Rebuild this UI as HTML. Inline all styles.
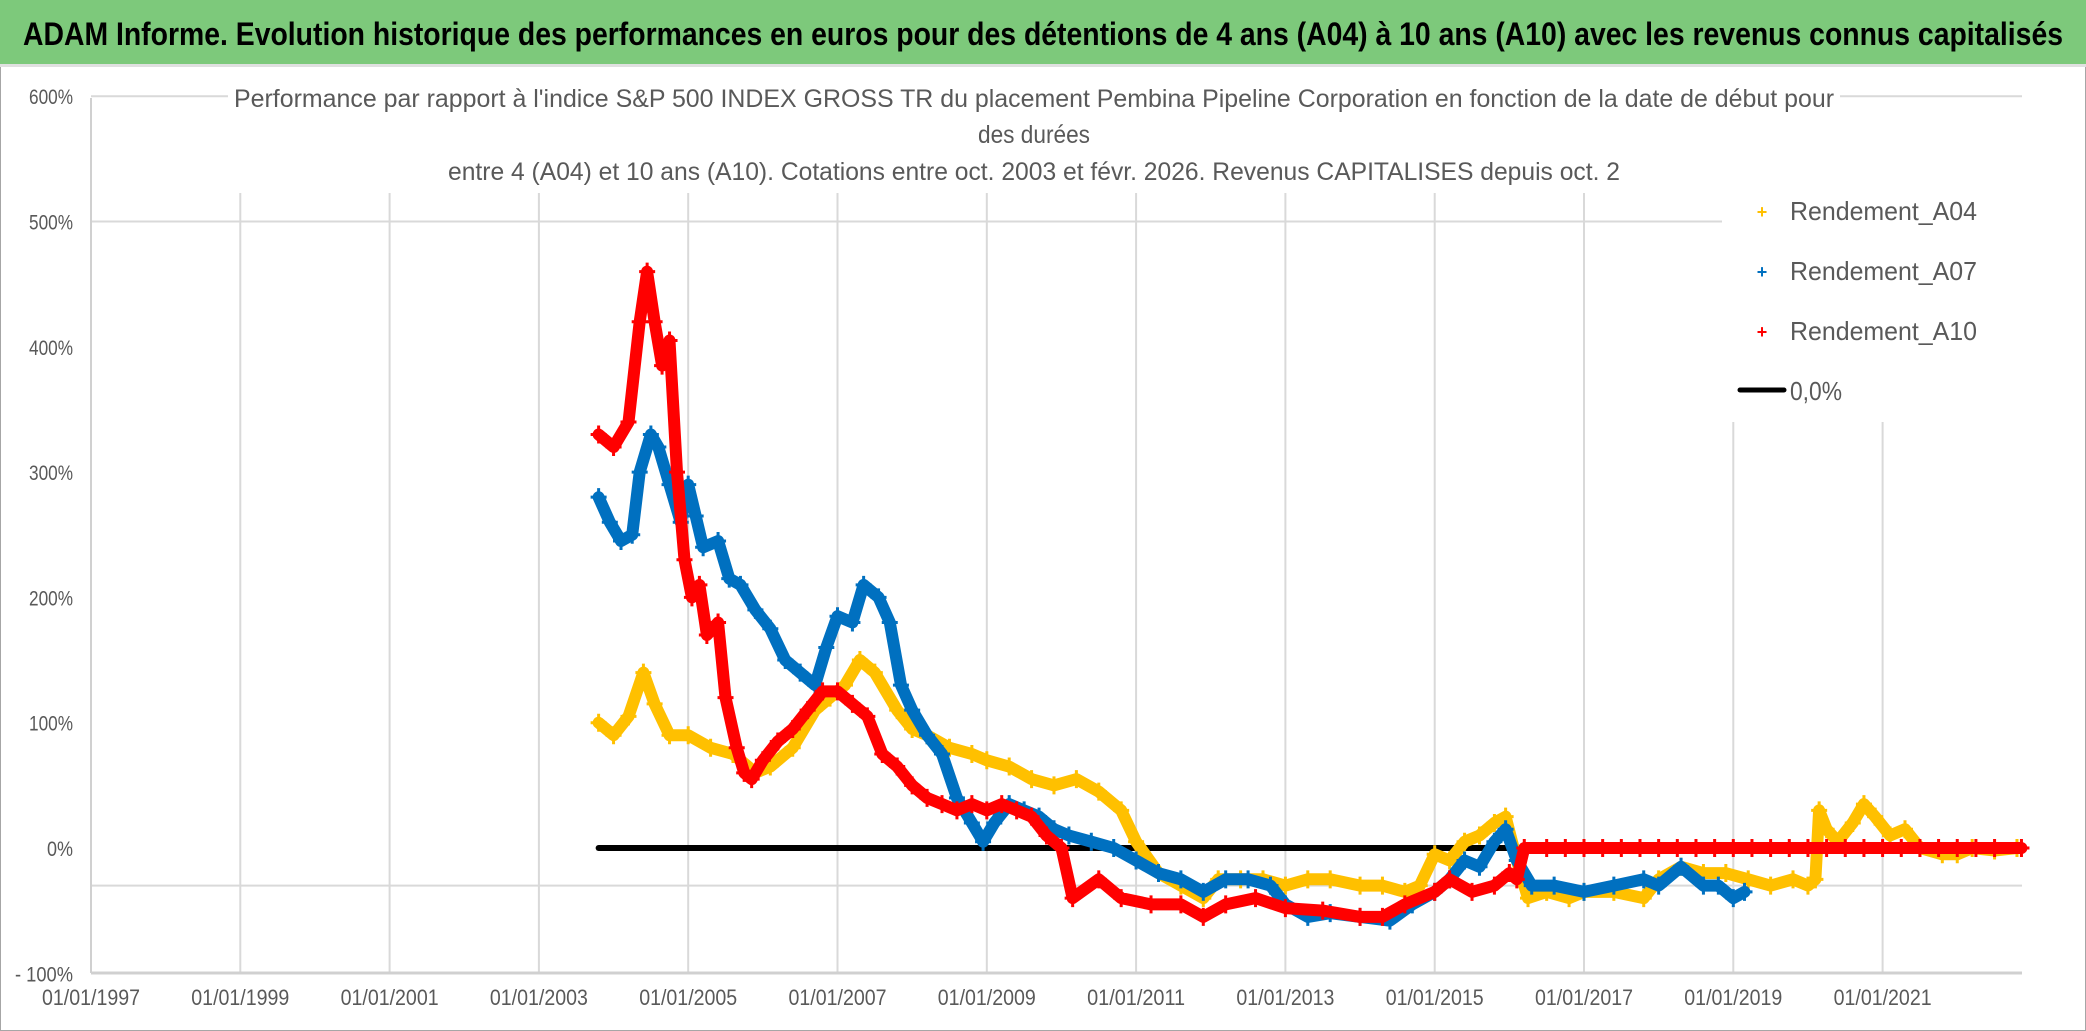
<!DOCTYPE html>
<html><head><meta charset="utf-8"><style>
html,body{margin:0;padding:0;background:#fff}
svg{display:block}
text{font-family:"Liberation Sans",sans-serif}
</style></head><body>
<svg id="c" width="2086" height="1031" xmlns="http://www.w3.org/2000/svg">
<rect x="0" y="0" width="2086" height="1031" fill="#fff" stroke="#a6a6a6" stroke-width="2"/>
<rect x="0" y="0" width="2086" height="64" fill="#7dc97b"/>
<rect x="0" y="64" width="2086" height="3" fill="#e0e0e0"/>
<text x="1043" y="45" text-anchor="middle" font-size="32" font-weight="bold" fill="#000" textLength="2040" lengthAdjust="spacingAndGlyphs">ADAM Informe. Evolution historique des performances en euros pour des détentions de 4 ans (A04) à 10 ans (A10) avec les revenus connus capitalisés</text>
<g id="grid"></g>
<rect x="228" y="80" width="1612" height="112" fill="#fff"/>
<rect x="1722" y="186" width="300" height="236" fill="#fff"/>
<g id="axes"></g>
<g id="series"></g>
<g fill="#595959" font-size="25" text-anchor="middle">
<text x="1034" y="107" textLength="1600" lengthAdjust="spacingAndGlyphs">Performance  par rapport à l'indice S&amp;P 500 INDEX GROSS TR  du placement Pembina Pipeline Corporation en fonction de la date de début pour</text>
<text x="1034" y="143" textLength="112" lengthAdjust="spacingAndGlyphs">des durées</text>
<text x="1034" y="180" textLength="1172" lengthAdjust="spacingAndGlyphs">entre 4 (A04) et 10 ans (A10). Cotations entre oct. 2003 et févr. 2026. Revenus CAPITALISES depuis oct. 2</text>
</g>
<g font-size="26" fill="#595959">
<g><text x="1762" y="218" text-anchor="middle" fill="#ffc000" font-size="18" font-weight="bold">+</text><text x="1790" y="220" textLength="187" lengthAdjust="spacingAndGlyphs">Rendement_A04</text></g>
<g><text x="1762" y="278" text-anchor="middle" fill="#0070c0" font-size="18" font-weight="bold">+</text><text x="1790" y="280" textLength="187" lengthAdjust="spacingAndGlyphs">Rendement_A07</text></g>
<g><text x="1762" y="338" text-anchor="middle" fill="#ff0000" font-size="18" font-weight="bold">+</text><text x="1790" y="340" textLength="187" lengthAdjust="spacingAndGlyphs">Rendement_A10</text></g>
<g><line x1="1740" y1="390" x2="1784" y2="390" stroke="#000" stroke-width="5" stroke-linecap="round"/><text x="1790" y="400" textLength="52" lengthAdjust="spacingAndGlyphs">0,0%</text></g>
</g>
</svg>
<script>
const xTicks=[1997,1999,2001,2003,2005,2007,2009,2011,2013,2015,2017,2019,2021];
const yTicks=[-100,0,100,200,300,400,500,600];
const hGrid=[600,500,-30];
const zeroStart=2003.8, zeroEnd=2022.86;
const a04Years=[2003.8,2004.0,2004.2,2004.4,2004.55,2004.75,2005.0,2005.3,2005.6,2005.9,2006.1,2006.4,2006.7,2006.9,2007.1,2007.3,2007.5,2007.8,2008.0,2008.2,2008.5,2008.8,2009.0,2009.3,2009.6,2009.9,2010.2,2010.5,2010.8,2011.0,2011.3,2011.6,2011.9,2012.1,2012.4,2012.7,2013.0,2013.3,2013.6,2014.0,2014.3,2014.6,2014.8,2015.0,2015.2,2015.4,2015.6,2015.8,2015.95,2016.1,2016.25,2016.5,2016.8,2017.0,2017.4,2017.8,2018.0,2018.3,2018.6,2018.9,2019.2,2019.5,2019.8,2020.0,2020.1,2020.15,2020.25,2020.4,2020.6,2020.75,2020.9,2021.1,2021.3,2021.5,2021.8,2022.0,2022.2,2022.5,2022.8];
const a04Vals=[100,90,105,140,115,90,90,80,75,60,65,80,110,120,130,150,140,110,95,90,80,75,70,65,55,50,55,45,30,5,-20,-30,-40,-25,-25,-25,-30,-25,-25,-30,-30,-35,-30,-5,-10,5,10,20,25,-10,-40,-35,-40,-35,-35,-40,-25,-15,-20,-20,-25,-30,-25,-30,-25,30,15,5,20,35,25,10,15,0,-5,-5,0,-2,0];
const a07Years=[2003.8,2003.95,2004.1,2004.25,2004.35,2004.5,2004.6,2004.75,2004.9,2005.0,2005.1,2005.2,2005.4,2005.55,2005.7,2005.9,2006.1,2006.3,2006.5,2006.7,2006.85,2007.0,2007.2,2007.35,2007.55,2007.7,2007.85,2008.0,2008.2,2008.4,2008.6,2008.8,2008.95,2009.1,2009.3,2009.5,2009.7,2009.9,2010.1,2010.4,2010.7,2011.0,2011.3,2011.6,2011.9,2012.2,2012.5,2012.8,2013.0,2013.3,2013.6,2014.0,2014.4,2014.7,2015.0,2015.2,2015.4,2015.6,2015.8,2015.95,2016.1,2016.3,2016.6,2017.0,2017.4,2017.8,2018.0,2018.3,2018.6,2018.8,2019.0,2019.15];
const a07Vals=[280,260,245,250,300,330,320,290,260,290,265,240,245,215,210,190,175,150,140,130,160,185,180,210,200,180,130,110,90,75,40,20,5,20,35,30,25,15,10,5,0,-10,-20,-25,-35,-25,-25,-30,-45,-55,-52,-55,-58,-45,-35,-25,-10,-15,5,15,-10,-30,-30,-35,-30,-25,-30,-15,-30,-30,-40,-35];
const a10Years=[2003.8,2004.0,2004.2,2004.35,2004.45,2004.55,2004.65,2004.75,2004.85,2004.95,2005.05,2005.15,2005.25,2005.4,2005.5,2005.65,2005.75,2005.85,2006.0,2006.2,2006.4,2006.6,2006.8,2007.0,2007.2,2007.4,2007.6,2007.8,2008.0,2008.2,2008.4,2008.6,2008.8,2009.0,2009.2,2009.4,2009.6,2009.8,2010.0,2010.15,2010.5,2010.8,2011.2,2011.6,2011.9,2012.2,2012.6,2013.0,2013.5,2014.0,2014.3,2014.6,2015.0,2015.2,2015.5,2015.8,2016.0,2016.1,2016.2,2016.5,2016.75,2017.0,2017.25,2017.5,2017.75,2018.0,2018.25,2018.5,2018.75,2019.0,2019.25,2019.5,2019.75,2020.0,2020.25,2020.5,2020.75,2021.0,2021.25,2021.5,2021.75,2022.0,2022.25,2022.5,2022.86];
const a10Vals=[330,320,340,420,460,420,385,405,300,230,200,210,170,180,120,80,60,55,70,85,95,110,125,125,115,105,75,65,50,40,35,30,35,30,35,30,25,10,0,-40,-25,-40,-45,-45,-55,-45,-40,-48,-50,-55,-55,-45,-35,-25,-35,-30,-20,-25,0,0,0,0,0,0,0,0,0,0,0,0,0,0,0,0,0,0,0,0,0,0,0,0,0,0,0];

const NS='http://www.w3.org/2000/svg';
const X0=91, PX_YR=74.65, Y0=848, PX_PCT=1.253, XR=2022, YB=973, YT=98;
function xs(yr){return X0+(yr-1997)*PX_YR;}
function ys(v){return Y0-v*PX_PCT;}
function mk(tag,attrs,parent){const e=document.createElementNS(NS,tag);for(const k in attrs)e.setAttribute(k,attrs[k]);parent.appendChild(e);return e;}
const grid=document.getElementById('grid'), axes=document.getElementById('axes'), ser=document.getElementById('series');
xTicks.forEach(t=>{
  const l=mk('line',{x1:xs(t),x2:xs(t),y1:193,y2:YB,stroke:'#d9d9d9','stroke-width':2},grid);
  
  
  const tx=mk('text',{x:xs(t),y:1005,'text-anchor':'middle','font-size':22,fill:'#595959',textLength:98,lengthAdjust:'spacingAndGlyphs'},axes);
  tx.textContent='01/01/'+t;
  
  
});
hGrid.forEach(v=>{
  const l=mk('line',{x1:X0,x2:XR,y1:ys(v),y2:ys(v),stroke:'#d9d9d9','stroke-width':2},grid);
  
  
});
yTicks.forEach(v=>{
  const tx=mk('text',{x:73,y:ys(v)+8,'text-anchor':'end','font-size':21,fill:'#595959'},axes);
  tx.textContent=(v<0?'- '+(-v):v)+'%';
  tx.setAttribute('textLength', v<0?58:(v===0?26:44));
  tx.setAttribute('lengthAdjust','spacingAndGlyphs');
  
  
});
const ax=mk('line',{x1:X0,x2:XR,y1:YB,y2:YB,stroke:'#d0d0d0','stroke-width':3},axes);


const ay=mk('line',{x1:X0,x2:X0,y1:YT,y2:YB,stroke:'#d0d0d0','stroke-width':2},axes);



const zl=mk('line',{x1:xs(zeroStart),x2:xs(zeroEnd),y1:ys(0),y2:ys(0),stroke:'#000','stroke-width':6,'stroke-linecap':'round'},ser);



function series(name,years,vals,color){
  const g=mk('g',{},ser);
  
  
  const pts=years.map((y,i)=>xs(y).toFixed(1)+','+ys(vals[i]).toFixed(1)).join(' ');
  mk('polyline',{points:pts,fill:'none',stroke:color,'stroke-width':12,'stroke-linejoin':'round','stroke-linecap':'round'},g);
  years.forEach((y,i)=>{
    const cx=xs(y), cy=ys(vals[i]);
    const p=mk('path',{d:`M${cx-8} ${cy}H${cx+8}M${cx} ${cy-9}V${cy+9}`,stroke:color,'stroke-width':3},g);
    
    
  });
}
series('series-a04',a04Years,a04Vals,'#ffc000');
series('series-a07',a07Years,a07Vals,'#0070c0');
series('series-a10',a10Years,a10Vals,'#ff0000');
</script>
</body></html>
